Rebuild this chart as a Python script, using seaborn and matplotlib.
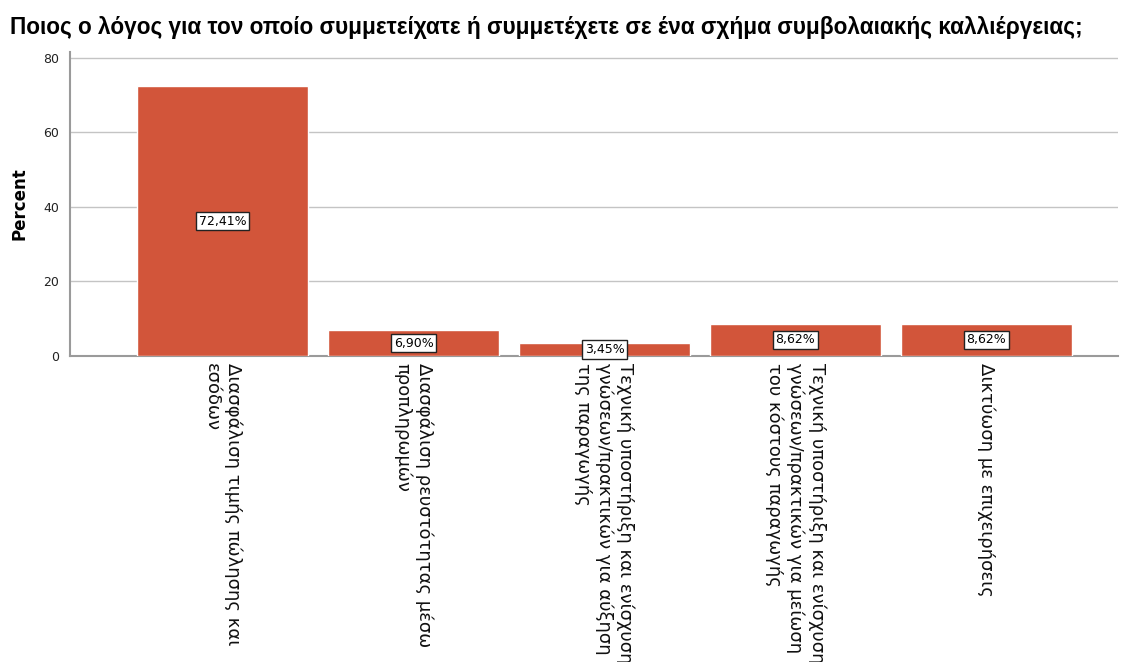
import matplotlib
matplotlib.use("Agg")
import matplotlib.pyplot as plt
import seaborn as sns
import pandas as pd

# Дані з діаграми
reasons = [
    "Διασφάλιση τιμής πώλησης και\nεσόδων",
    "Διασφάλιση ρευστότητας μέσω\nπροπληρωμών",
    "Τεχνική υποστήριξη και ενίσχυση\nγνώσεων/πρακτικών για αύξηση\nτης παραγωγής",
    "Τεχνική υποστήριξη και ενίσχυση\nγνώσεων/πρακτικών για μείωση\nτου κόστους παραγωγής",
    "Δικτύωση με επιχειρήσεις",
]
percents = [72.41, 6.90, 3.45, 8.62, 8.62]
bar_labels = ["72,41%", "6,90%", "3,45%", "8,62%", "8,62%"]

df = pd.DataFrame({"reason": reasons, "percent": percents})

sns.set_style("white")
plt.rcParams['font.family'] = ['DejaVu Sans']

fig = plt.figure(figsize=(11.21, 6.62), dpi=100)
ax = fig.add_axes([0.0624, 0.4622, 0.9349, 0.4593])

sns.barplot(data=df, x="reason", y="percent", color="#D2553A", width=0.895,
            saturation=1, ax=ax, zorder=3)

ax.set_xlim(-0.8, 4.69)
ax.set_ylim(0, 81.6)
ax.set_yticks([0, 20, 40, 60, 80])
ax.yaxis.grid(True, color="#c4c4c4", linewidth=1, zorder=0)
ax.set_axisbelow(True)

for sp in ["top", "right"]:
    ax.spines[sp].set_visible(False)
for sp in ["left", "bottom"]:
    ax.spines[sp].set_color("#9a9a9a")
    ax.spines[sp].set_linewidth(1.5)

ax.tick_params(axis="y", length=5, color="#9a9a9a", labelsize=9, labelcolor="#222222", pad=3)
ax.tick_params(axis="x", length=0, pad=5)
ax.set_xticks(range(len(reasons)))
ax.set_xticklabels(reasons, rotation=270, ha="center", va="top",
                   multialignment="left", fontsize=13, color="#111111")

# Підписи у рамках посередині стовпців
for i, (p, lab) in enumerate(zip(percents, bar_labels)):
    ax.text(i, p / 2, lab, ha="center", va="center", fontsize=9, zorder=5,
            color="black",
            bbox=dict(boxstyle="square,pad=0.22", facecolor="white",
                      edgecolor="#222222", linewidth=1))

ax.set_xlabel("")
ax.set_ylabel("Percent", fontsize=12, fontweight="bold", labelpad=10, color="black")

fig.text(0.009, 0.958, "Ποιος ο λόγος για τον οποίο συμμετείχατε ή συμμετέχετε σε ένα σχήμα συμβολαιακής καλλιέργειας;",
         fontsize=16.3, fontweight="bold", ha="left", va="center", color="black",
         family=["Liberation Sans", "DejaVu Sans"])

fig.savefig("out.png", dpi=100)
